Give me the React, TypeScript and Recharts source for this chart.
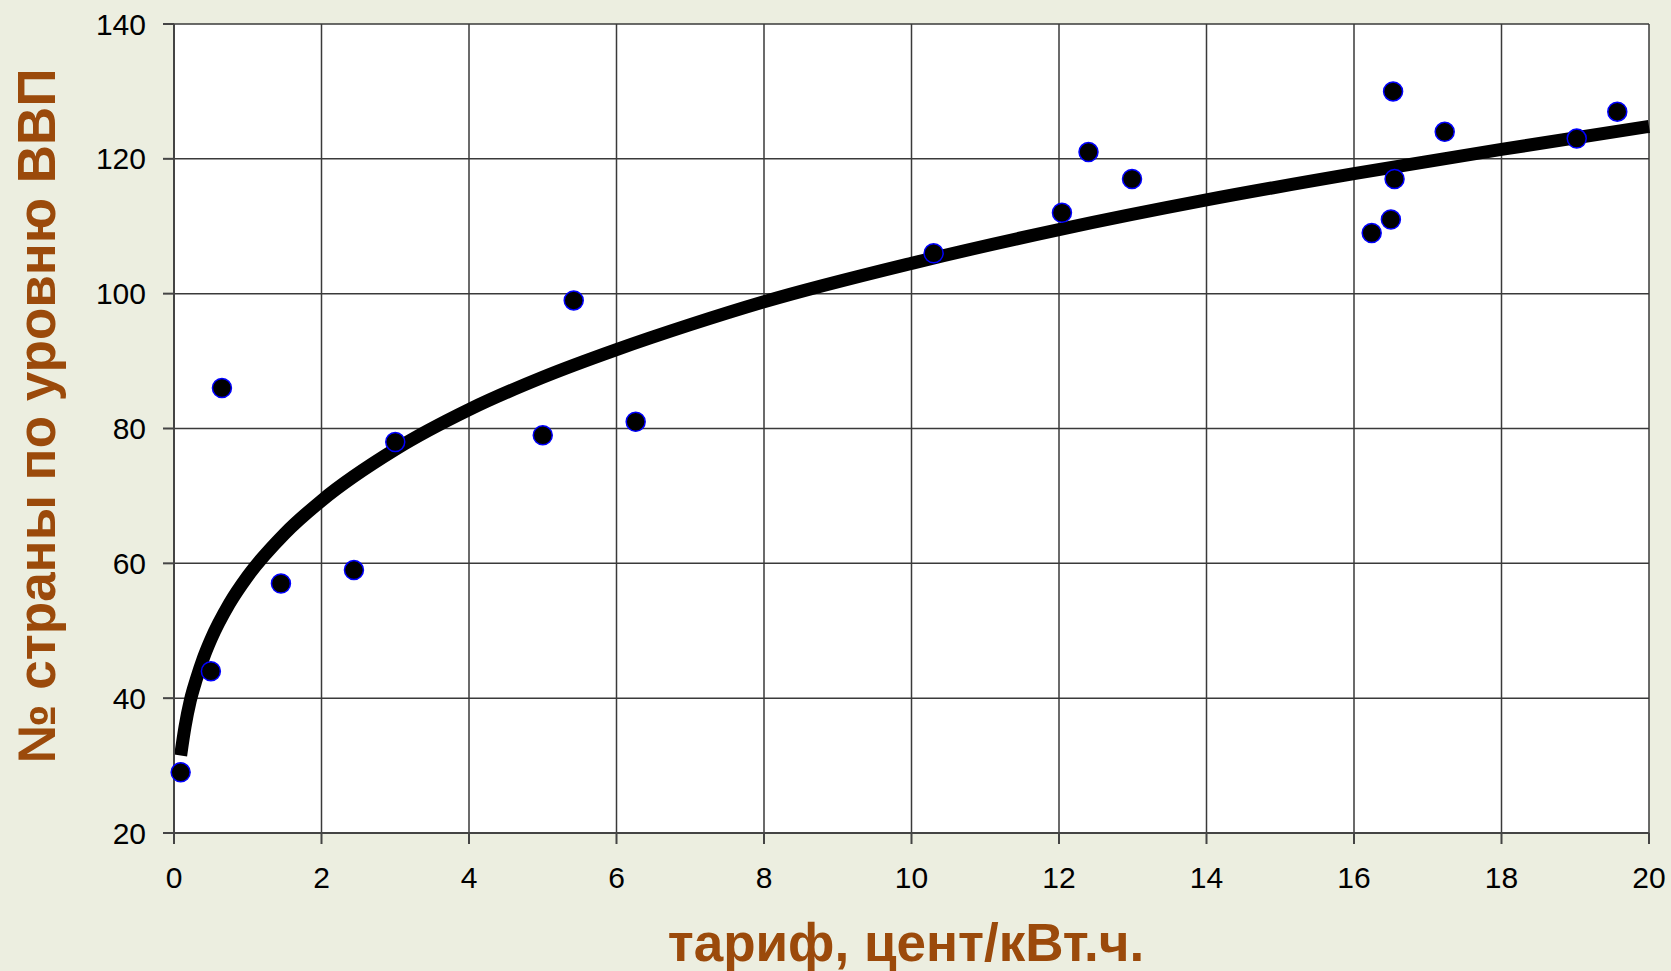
import React from "react"
import {
  CartesianGrid,
  ComposedChart,
  Label,
  Line,
  Scatter,
  XAxis,
  YAxis,
} from "recharts"

// country points: tariff (cent/kWh) vs GDP rank
const tariffs = [
  0.09, 0.5, 0.65, 1.45, 2.44, 3.0, 5.0, 5.42, 6.26, 10.3, 12.04, 12.4, 12.99,
  16.24, 16.5, 16.55, 16.53, 17.23, 19.02, 19.57,
]
const ranks = [
  29, 44, 86, 57, 59, 78, 79, 99, 81, 106, 112, 121, 117, 109, 111, 117, 130,
  124, 123, 127,
]

// trend curve
const trendX = [
  0.09, 0.15, 0.22, 0.3, 0.4, 0.5, 0.75, 1, 1.5, 2, 3, 4, 5, 6, 7, 8, 10, 12,
  14, 16, 18, 20,
]
const trendY = [
  31.5, 35.8, 39.6, 42.7, 46, 48.7, 54, 58.1, 64.4, 69.3, 76.9, 82.8, 87.6,
  91.7, 95.4, 98.8, 104.5, 109.5, 113.9, 117.8, 121.4, 124.8,
]

const xTicks = [0, 2, 4, 6, 8, 10, 12, 14, 16, 18, 20]
const yTicks = [20, 40, 60, 80, 100, 120, 140]

const points = tariffs.map((x, i) => ({ x, y: ranks[i] }))
const trend = trendX.map((x, i) => ({ x, y: trendY[i] }))

const FONT = "Arial, 'Liberation Sans', sans-serif"
const BROWN = "#9b4a0b"

const Dot = (p: any) => (
  <circle cx={p.cx} cy={p.cy} r={9.5} fill="#000" stroke="#0000ff" strokeWidth={1.5} />
)

export default function App() {
  return (
    <div
      style={{
        position: "fixed",
        left: 0,
        top: 0,
        width: 1671,
        height: 971,
        background: "#eceee0",
        fontFamily: FONT,
      }}
    >
      <ComposedChart
        width={1671}
        height={971}
        margin={{ top: 24, right: 22, left: 0, bottom: 0 }}
      >
        <CartesianGrid fill="#fff" stroke="#3a3a3a" strokeWidth={1.5} />
        <XAxis
          dataKey="x"
          type="number"
          domain={[0, 20]}
          ticks={xTicks}
          height={138}
          tickSize={11}
          tickMargin={23}
          stroke="#444"
          strokeWidth={2}
          tick={{ fill: "#000", fontSize: 30, fontFamily: FONT }}
        >
          <Label
            content={() => (
              <text
                x={906}
                y={961}
                textAnchor="middle"
                fill={BROWN}
                fontSize={53}
                fontWeight="bold"
                fontFamily={FONT}
              >
                тариф, цент/кВт.ч.
              </text>
            )}
          />
        </XAxis>
        <YAxis
          dataKey="y"
          type="number"
          domain={[20, 140]}
          ticks={yTicks}
          width={174}
          tickSize={11}
          tickMargin={17}
          stroke="#444"
          strokeWidth={2}
          tick={{ fill: "#000", fontSize: 30, fontFamily: FONT }}
        >
          <Label
            content={() => (
              <text
                x={36}
                y={416}
                transform="rotate(-90 36 416)"
                textAnchor="middle"
                dominantBaseline="central"
                fill={BROWN}
                fontSize={53}
                fontWeight="bold"
                fontFamily={FONT}
              >
                № страны по уровню ВВП
              </text>
            )}
          />
        </YAxis>
        <Scatter data={points} shape={Dot} isAnimationActive={false} />
        <Line
          data={trend}
          dataKey="y"
          type="monotone"
          stroke="#000"
          strokeWidth={13}
          dot={false}
          activeDot={false}
          isAnimationActive={false}
        />
      </ComposedChart>
    </div>
  )
}
